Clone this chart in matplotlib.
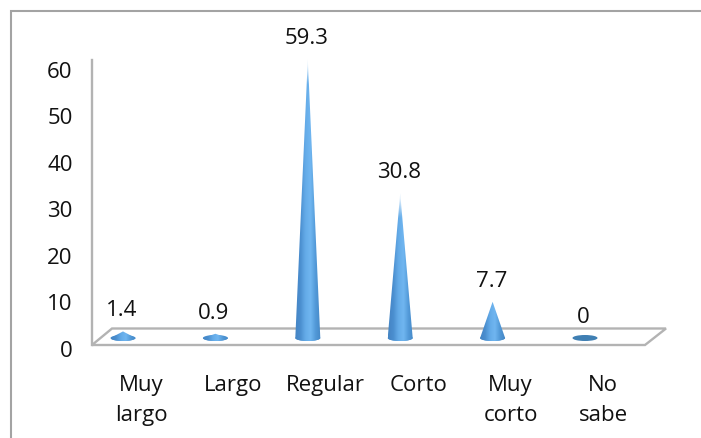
import numpy as np
import matplotlib
matplotlib.use("Agg")
import matplotlib.pyplot as plt
from matplotlib.colors import LinearSegmentedColormap
from matplotlib.patches import Ellipse, Polygon

categories = ["Muy\nlargo", "Largo", "Regular", "Corto", "Muy\ncorto", "No\nsabe"]
values = [1.4, 0.9, 59.3, 30.8, 7.7, 0]
value_labels = ["1.4", "0.9", "59.3", "30.8", "7.7", "0"]
yticks = [0, 10, 20, 30, 40, 50, 60]

W, H = 701, 439
FS = 16
plt.rcParams['font.family'] = ['Open Sans', 'DejaVu Sans']
fig = plt.figure(figsize=(W / 100, H / 100), dpi=100)
fig.patch.set_facecolor("white")


def axes_px(left, top, right, bottom):
    return fig.add_axes([left / W, 1 - bottom / H, (right - left) / W, (bottom - top) / H])


# frame, wall and floor, in picture pixels
bg = axes_px(0, 0, W, H)
bg.set_xlim(0, W)
bg.set_ylim(H, 0)
bg.axis("off")
bg.plot([11, 11, W], [H, 12, 12], color="#a3a3a3", lw=1.5, solid_joinstyle="miter")
bg.add_patch(Polygon([(92, 346), (112, 329.5), (666, 329.5), (645, 346)], closed=True,
                     fc="white", ec="#b3b3b3", lw=1.7))
bg.plot([92, 92], [61, 346], color="#b3b3b3", lw=1.7)

# value axis labels and category labels
ax = axes_px(92, 64, 645, 349)
ax.patch.set_alpha(0)
ax.set_ylim(0, 285 / 4.65)
ax.set_xlim((92 - 141) / 92.4, (645 - 141) / 92.4)
for s in ax.spines.values():
    s.set_visible(False)
ax.set_yticks(yticks)
ax.set_xticks(range(len(categories)))
ax.set_xticklabels(categories, linespacing=1.6)
ax.tick_params(axis="y", length=0, pad=14, labelsize=FS, labelcolor="#111111")
ax.tick_params(axis="x", length=0, pad=18.5, labelsize=FS, labelcolor="#111111")

# cones
cx = axes_px(92, 50, 645, 346)
cx.patch.set_alpha(0)
cx.axis("off")
xlim = ((92 - 123) / 92.4, (645 - 123) / 92.4)
ylim = (-7 / 4.7, 289 / 4.7)

shade = LinearSegmentedColormap.from_list(
    "cone", ["#4585c4", "#4a8ecf", "#64abe8", "#70b6f0", "#5299d8", "#4688c6"])
half_w = 12.5 / 92.4
half_h = 3 / 4.7

for i, v in enumerate(values):
    base_col = "#3f7fb3" if v == 0 else "#4a90d0"
    cx.add_patch(Ellipse((i, 0), 2 * half_w, 2 * half_h, fc=base_col, ec="none"))
    if v > 0:
        t = np.linspace(np.pi, 2 * np.pi, 30)
        arc = np.column_stack([i + half_w * np.cos(t), half_h * np.sin(t)])
        cone = Polygon(np.vstack([[i, v], arc]), closed=True, transform=cx.transData, fc="none", ec="none")
        cx.add_patch(cone)
        # horizontal shading, tip of the tall cones fades out
        rgba = shade(np.tile(np.linspace(0, 1, 64), (128, 1)))
        if v > 20:
            fade = np.clip(np.linspace(0, 1, 128) * v / 5.0, 0.2, 1)
            rgba[..., 3] = fade[:, None]
        img = cx.imshow(rgba, extent=(i - half_w, i + half_w, -half_h, v), origin="upper",
                        aspect="auto", zorder=2, interpolation="bilinear")
        img.set_clip_path(cone)
    cx.annotate(value_labels[i], (i, v), xytext=(-1, 15.5), textcoords="offset points",
                ha="center", va="center", fontsize=FS, color="#111111", annotation_clip=False)

cx.set_xlim(xlim)
cx.set_ylim(ylim)

fig.savefig("out.png", dpi=100)
